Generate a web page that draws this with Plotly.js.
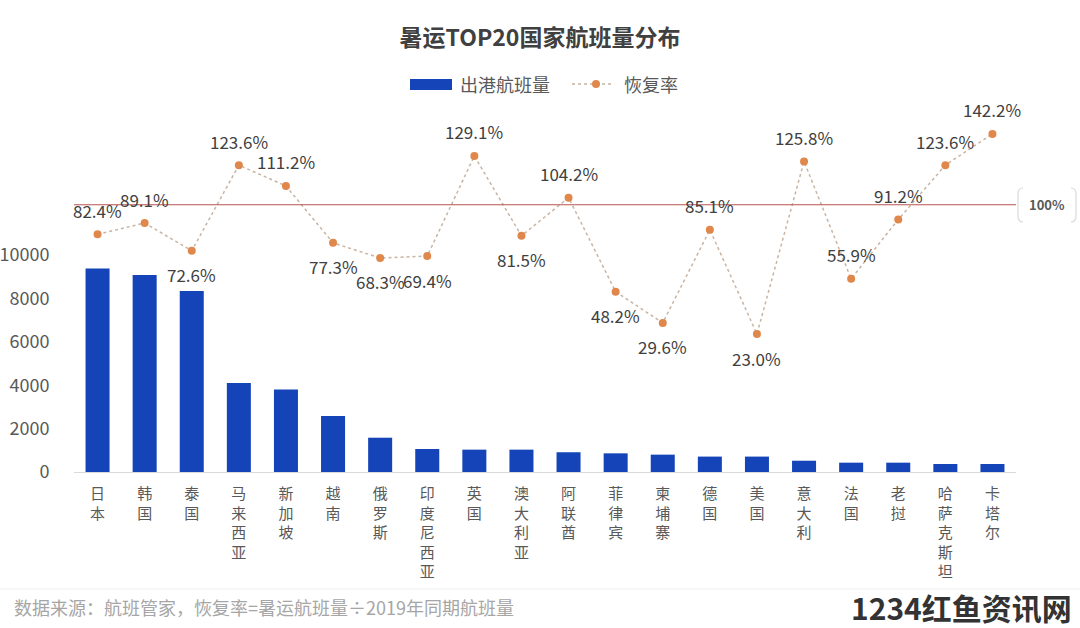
<!DOCTYPE html>
<html>
<head>
<meta charset="utf-8">
<script src="https://cdn.plot.ly/plotly-3.0.1.min.js"></script>
<style>html,body{margin:0;padding:0;background:#fff;}#chart{width:1080px;height:628px;}</style>
</head>
<body>
<div id="chart"></div>
<script>
const categories = ['日本','韩国','泰国','马来西亚','新加坡','越南','俄罗斯','印度尼西亚','英国','澳大利亚','阿联酋','菲律宾','柬埔寨','德国','美国','意大利','法国','老挝','哈萨克斯坦','卡塔尔'];
const flights = [9380, 9080, 8340, 4100, 3800, 2580, 1580, 1060, 1030, 1030, 910, 860, 800, 710, 710, 520, 430, 430, 370, 370];
const recovery = [82.4, 89.1, 72.6, 123.6, 111.2, 77.3, 68.3, 69.4, 129.1, 81.5, 104.2, 48.2, 29.6, 85.1, 23.0, 125.8, 55.9, 91.2, 123.6, 142.2];
const yTicks = [0, 2000, 4000, 6000, 8000, 10000];
const refLine = 100;
const barName = '出港航班量';
const lineName = '恢复率';
const titleText = '暑运TOP20国家航班量分布';
const sourceText = '数据来源：航班管家，恢复率=暑运航班量÷2019年同期航班量';
const watermark = '1234红鱼资讯网';
// label side: 1 above, -1 below
const labelSide = [1,1,-1,1,1,-1,-1,-1,1,-1,1,-1,-1,1,-1,1,1,1,1,1];

const FONT = '"Noto Sans CJK SC", "Noto Sans", sans-serif';
// plot area in pixels
const L = 74, R = 1016, T = 100, B = 472;
const W = R - L, H = B - T;
const px = x => (x - L) / W;
const py = y => (B - y) / H;

const traces = [
  {
    type: 'bar', x: categories, y: flights, name: barName,
    marker: {color: '#1444b8'}, showlegend: false, hoverinfo: 'x+y'
  },
  {
    type: 'scatter', mode: 'lines+markers', x: categories, y: recovery, yaxis: 'y2', name: lineName,
    line: {color: '#c8b4a2', width: 1.5, dash: 'dot'},
    marker: {color: '#e0884c', size: 8}, showlegend: false
  }
];

const annotations = recovery.map((v, i) => ({
  x: categories[i], y: v, xref: 'x', yref: 'y2', text: v.toFixed(1) + '%',
  showarrow: false, yshift: 24 * labelSide[i],
  font: {family: FONT, size: 17, color: '#404040'}
}));

annotations.push(
  {xref: 'paper', yref: 'paper', x: px(458), y: py(84), xanchor: 'left', yanchor: 'middle', text: barName, showarrow: false, font: {family: FONT, size: 18, color: '#595959'}},
  {xref: 'paper', yref: 'paper', x: px(622), y: py(84), xanchor: 'left', yanchor: 'middle', text: lineName, showarrow: false, font: {family: FONT, size: 18, color: '#595959'}},
  {xref: 'paper', yref: 'y2', x: px(1047), y: refLine, xanchor: 'center', yanchor: 'middle', text: '<b>100%</b>', showarrow: false, font: {family: FONT, size: 13, color: '#595959'}},
  {xref: 'paper', yref: 'paper', x: px(12), y: py(607), xanchor: 'left', yanchor: 'middle', text: sourceText, showarrow: false, font: {family: FONT, size: 18, color: '#a6a6a6'}},
  {xref: 'paper', yref: 'paper', x: px(1074), y: py(607), xanchor: 'right', yanchor: 'middle', text: '<b>' + watermark + '</b>', showarrow: false, font: {family: FONT, size: 30, color: '#333333'}}
);

const shapes = [
  {type: 'line', xref: 'paper', yref: 'y2', x0: 0, x1: 1, y0: refLine, y1: refLine, line: {color: '#b85450', width: 1.2}},
  // legend swatches
  {type: 'rect', xref: 'paper', yref: 'paper', x0: px(410), x1: px(452), y0: py(90), y1: py(79), fillcolor: '#1444b8', line: {width: 0}},
  {type: 'line', xref: 'paper', yref: 'paper', x0: px(572), x1: px(612), y0: py(84), y1: py(84), line: {color: '#c8b4a2', width: 1.5, dash: 'dot'}},
  {type: 'circle', xref: 'paper', yref: 'paper', x0: px(592), x1: px(600), y0: py(88), y1: py(80), fillcolor: '#e0884c', line: {width: 0}},
  // brackets around 100% label
  {type: 'path', xref: 'paper', yref: 'paper', path: `M ${px(1023)} ${py(188)} Q ${px(1018)} ${py(188)} ${px(1018)} ${py(194)} L ${px(1018)} ${py(216)} Q ${px(1018)} ${py(222)} ${px(1023)} ${py(222)}`, line: {color: '#d9d9d9', width: 1.2}},
  {type: 'path', xref: 'paper', yref: 'paper', path: `M ${px(1071)} ${py(188)} Q ${px(1076)} ${py(188)} ${px(1076)} ${py(194)} L ${px(1076)} ${py(216)} Q ${px(1076)} ${py(222)} ${px(1071)} ${py(222)}`, line: {color: '#d9d9d9', width: 1.2}},
  // faint frame line at bottom
  {type: 'line', xref: 'paper', yref: 'paper', x0: px(0), x1: px(1080), y0: py(589), y1: py(589), line: {color: '#eeeeee', width: 1}}
];

const layout = {
  width: 1080, height: 628,
  margin: {l: L, r: 1080 - R, t: T, b: 628 - B, pad: 0},
  paper_bgcolor: '#ffffff', plot_bgcolor: '#ffffff',
  font: {family: FONT, color: '#595959'},
  title: {text: '<b>' + titleText + '</b>', x: 0.5, xref: 'container', y: 1 - 38 / 628, yanchor: 'middle', xanchor: 'center', font: {family: FONT, size: 23, color: '#404040'}},
  showlegend: false,
  bargap: 0.49,
  xaxis: {
    type: 'category', range: [-0.5, categories.length - 0.5],
    tickvals: categories, ticktext: categories.map(c => c.split('').join('<br>')),
    tickfont: {family: FONT, size: 15, color: '#595959'},
    showline: true, linecolor: '#d9d9d9', linewidth: 1, showgrid: false, zeroline: false,
    ticks: 'outside', ticklen: 8, tickcolor: 'rgba(0,0,0,0)', fixedrange: true
  },
  yaxis: {
    range: [0, 10000 * H / 217], tickvals: yTicks, ticktext: yTicks.map(String),
    tickfont: {family: FONT, size: 18, color: '#595959'},
    showgrid: false, zeroline: false, showline: false,
    ticks: 'outside', ticklen: 20, tickcolor: 'rgba(0,0,0,0)'
  },
  yaxis2: {
    overlaying: 'y', side: 'right', visible: false, range: [-59.2, 162.4], showgrid: false, zeroline: false
  },
  annotations: annotations,
  shapes: shapes
};

Plotly.newPlot('chart', traces, layout, {staticPlot: true, displayModeBar: false});
</script>
</body>
</html>
